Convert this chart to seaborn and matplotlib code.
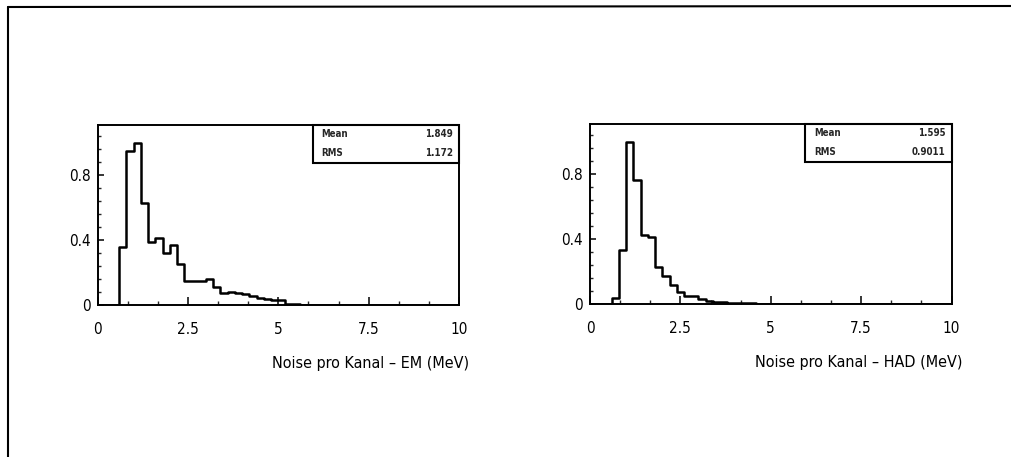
import numpy as np
import pandas as pd
import matplotlib
matplotlib.use("Agg")
import matplotlib.pyplot as plt
from matplotlib.patches import Rectangle
from matplotlib.lines import Line2D
from matplotlib.ticker import FixedLocator, FuncFormatter
import seaborn as sns

# ---------------- data ----------------
bin_width = 0.2
first_edge = 0.6
# normalised bin contents (peak = 1), bins of 0.2 MeV starting at 0.6 MeV
em_values = [0.355, 0.945, 1.0, 0.63, 0.39, 0.41, 0.32, 0.37, 0.25, 0.145,
             0.145, 0.15, 0.158, 0.11, 0.072, 0.08, 0.076, 0.068, 0.055, 0.041,
             0.035, 0.031, 0.03, 0.008, 0.004]
had_values = [0.04, 0.334, 1.0, 0.765, 0.425, 0.41, 0.23, 0.175, 0.117, 0.076,
              0.047, 0.05, 0.03, 0.02, 0.014, 0.01, 0.008, 0.006, 0.005, 0.004,
              0.003, 0.003, 0.002, 0.002, 0.001]
em_stats = {"Mean": "1.849", "RMS": "1.172"}
had_stats = {"Mean": "1.595", "RMS": "0.9011"}
em_label = "Noise pro Kanal – EM (MeV)"
had_label = "Noise pro Kanal – HAD (MeV)"
x_major = [0, 2.5, 5, 7.5, 10]
y_major = [0, 0.4, 0.8]

# ---------------- style ----------------
sns.set_theme(style="ticks")
plt.rcParams["font.family"] = ["DejaVu Sans"]
plt.rcParams["font.stretch"] = "condensed"

fig = plt.figure(figsize=(10.11, 4.57), dpi=100)
W, H = 1011, 457


def make_df(values):
    centers = first_edge + bin_width * (np.arange(len(values)) + 0.5)
    return pd.DataFrame({"x": centers, "w": values})


edges = [round(i * bin_width, 6) for i in range(51)]


def draw(left_px, top_px, values, stats, label, label_right_frac):
    w_px, h_px = 361.5, 180
    ax = fig.add_axes([left_px / W, (H - top_px - h_px) / H, w_px / W, h_px / H])
    df = make_df(values)
    sns.histplot(data=df, x="x", weights="w", bins=edges, element="step",
                 fill=False, color="black", linewidth=1.8, ax=ax)
    ax.set_xlim(0, 10)
    ax.set_ylim(0, 1.108)
    ax.set_ylabel("")
    for s in ax.spines.values():
        s.set_linewidth(1.4)
        s.set_color("black")
    # ticks
    ax.xaxis.set_major_locator(FixedLocator(x_major))
    minor_x = [i * 10 / 12 for i in range(13) if i % 3 != 0]
    ax.xaxis.set_minor_locator(FixedLocator(minor_x))
    ax.yaxis.set_major_locator(FixedLocator(y_major))
    minor_y = [round(i * 0.08, 4) for i in range(1, 14) if i % 5 != 0]
    ax.yaxis.set_minor_locator(FixedLocator(minor_y))
    fmt = FuncFormatter(lambda v, p: f"{v:g}")
    ax.xaxis.set_major_formatter(fmt)
    ax.yaxis.set_major_formatter(fmt)
    ax.tick_params(axis="x", which="major", direction="in", length=6, width=1.1,
                   pad=12, labelsize=11, colors="black", top=False)
    ax.tick_params(axis="x", which="minor", direction="in", length=3, width=1.0,
                   top=False)
    ax.tick_params(axis="y", which="major", direction="in", length=4.5, width=1.1,
                   pad=5, labelsize=11, colors="black", right=False)
    ax.tick_params(axis="y", which="minor", direction="in", length=2.2, width=1.0,
                   right=False)
    ax.set_xlabel(label, fontsize=11.5, ha="right", va="top", color="black")
    ax.xaxis.set_label_coords(label_right_frac, -0.285)
    # stats box
    box = Rectangle((0.595, 0.79), 0.405, 0.21, transform=ax.transAxes,
                    facecolor="white", edgecolor="black", linewidth=1.5,
                    zorder=5, clip_on=False)
    ax.add_patch(box)
    for (name, val), yy in zip(stats.items(), [0.948, 0.845]):
        ax.text(0.62, yy, name, transform=ax.transAxes, fontsize=7,
                fontweight="bold", ha="left", va="center", zorder=6)
        ax.text(0.983, yy, val, transform=ax.transAxes, fontsize=7,
                fontweight="bold", ha="right", va="center", zorder=6)
    return ax


draw(97.5, 125, em_values, em_stats, em_label, 1.027)
draw(590, 124, had_values, had_stats, had_label, 1.03)

# outer page frame (top and left edges visible)
fig.add_artist(Line2D([8 / W, 1.0], [1 - 7 / H, 1 - 6 / H], transform=fig.transFigure,
                      color="black", linewidth=1.5))
fig.add_artist(Line2D([8 / W, 8 / W], [0, 1 - 7 / H], transform=fig.transFigure,
                      color="black", linewidth=1.5))

fig.savefig("out.png", dpi=100, facecolor="white")
